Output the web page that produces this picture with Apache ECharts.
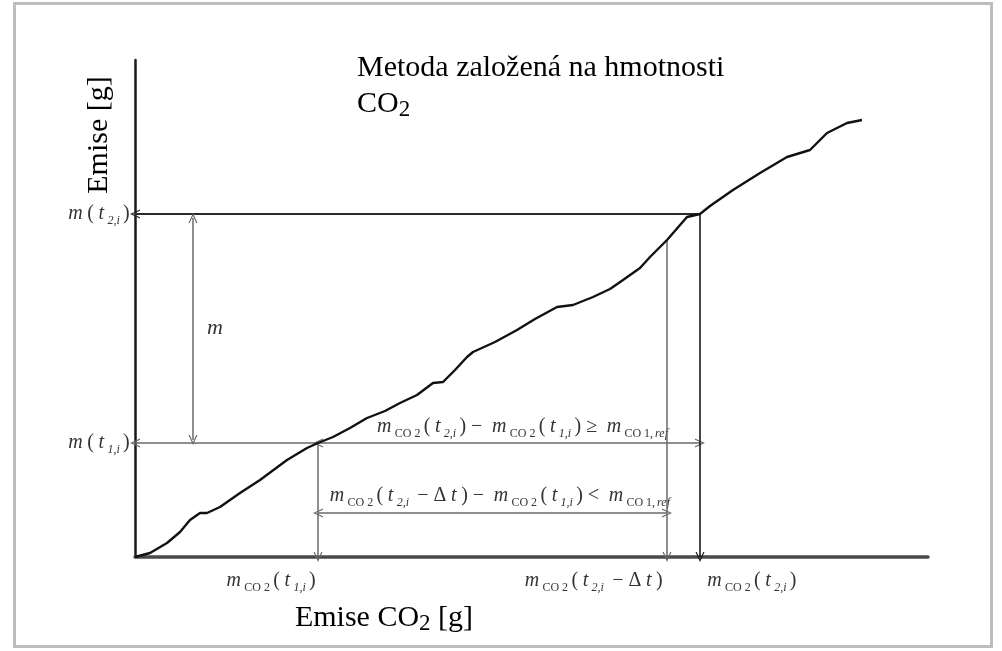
<!DOCTYPE html>
<html>
<head>
<meta charset="utf-8">
<script src="https://cdn.jsdelivr.net/npm/echarts@6/dist/echarts.min.js"></script>
<style>html,body{margin:0;padding:0;background:#fff}#c{width:1002px;height:651px}</style>
</head>
<body>
<div id="c"></div>
<script>
// Cumulative emission curve: CO2 mass (x) vs emission mass (y), arbitrary units
const curveX = [0,15,32,45,55,65,72,85,105,125,152,172,183,198,215,232,250,265,282,298,308,320,332,338,360,382,400,422,438,458,475,488,505,515,532,552,565,575,598,625,652,675,692,712,727];
const curveY = [0,4,14,25,37,44,44,50,64,77,97,109,114,120,129,139,146,154,162,174,175,187,200,205,215,227,238,250,252,260,268,277,289,300,317,340,343,351,367,384,400,407,424,434,437];

// Key reading points
const xT1 = 183;      // m_CO2(t1,i)
const xT2dt = 532;    // m_CO2(t2,i - Δt)
const xT2 = 565;      // m_CO2(t2,i)
const mT1 = 114;      // m(t1,i)
const mT2 = 343;      // m(t2,i)
const xM = 58;        // position of the "m" arrow
const yDtArrow = 44;  // level of the Δt double arrow
const yCurveAtT2dt = 317;

const xMax = 793, yMax = 497;

const chart = echarts.init(document.getElementById('c'), null, {renderer:'canvas'});
const arrow = 'path://M5,0 L10,11 L8.6,11 L5,3 L1.4,11 L0,11 Z';
const AS = [9, 10];
const gray = '#6a6a6a', dark = '#2a2a2a';

function seg(a, b, sa, sb, color, width) {
  return [
    {coord: a, symbol: sa ? arrow : 'none', symbolSize: AS, lineStyle: {color: color, width: width, type: 'solid'}},
    {coord: b, symbol: sb ? arrow : 'none', symbolSize: AS}
  ];
}

const pts = curveX.map((x, i) => [x, curveY[i]]);

chart.setOption({
  animation: false,
  grid: {left: 135, right: 74, top: 60, bottom: 94},
  xAxis: {type: 'value', min: 0, max: xMax, axisLine: {lineStyle: {color: '#4a4a4a', width: 3.5}}, axisTick: {show: false}, axisLabel: {show: false}, splitLine: {show: false}},
  yAxis: {type: 'value', min: 0, max: yMax, axisLine: {show: true, lineStyle: {color: '#1a1a1a', width: 2.5}}, axisTick: {show: false}, axisLabel: {show: false}, splitLine: {show: false}},
  series: [{
    type: 'line', data: pts, showSymbol: false, smooth: false,
    lineStyle: {color: '#111', width: 2.4}, z: 5,
    markLine: {
      silent: true, animation: false, label: {show: false},
      symbol: ['none', 'none'],
      data: [
        seg([0, mT2], [xT2, mT2], true, false, dark, 2),
        seg([xT1, mT1], [0, mT1], false, true, gray, 1.5),
        seg([xT1, mT1], [xT2, mT1], true, true, gray, 1.5),
        seg([xM, mT2 - 4], [xM, mT1 + 3], true, true, gray, 1.5),
        seg([xT1, mT1], [xT1, 0], false, true, gray, 1.5),
        seg([xT2dt, yCurveAtT2dt], [xT2dt, 0], false, true, gray, 1.5),
        seg([xT2, mT2], [xT2, 0], false, true, '#1a1a1a', 1.6),
        seg([xT1, yDtArrow], [xT2dt, yDtArrow], true, true, gray, 1.5)
      ]
    }
  }]
});

const SF = 'Liberation Serif, Times New Roman, serif';
const lc = '#333';
const rich = {
  i: {fontFamily: SF, fontStyle: 'italic', fontSize: 20, lineHeight: 26, padding: [0, 2.3], fill: lc, color: lc},
  n: {fontFamily: SF, fontSize: 20, lineHeight: 26, padding: [0, 2.3], fill: lc, color: lc},
  s: {fontFamily: SF, fontStyle: 'italic', fontSize: 12, lineHeight: 15, padding: [0, 1], verticalAlign: 'bottom', fill: lc, color: lc},
  c: {fontFamily: SF, fontSize: 12, lineHeight: 15, padding: [0, 1], verticalAlign: 'bottom', fill: lc, color: lc},
  b: {fontFamily: SF, fontStyle: 'italic', fontSize: 22, lineHeight: 26, fill: lc, color: lc}
};
const mCO2 = '{i|m}{c|CO 2}';
const labels = [
  {at: [0, mT2], dx: -3, dy: 0, align: 'right', text: '{i|m}{n|(}{i|t}{s|2,i}{n|)}'},
  {at: [0, mT1], dx: -3, dy: 0, align: 'right', text: '{i|m}{n|(}{i|t}{s|1,i}{n|)}'},
  {at: [xM, (mT1 + mT2) / 2], dx: 22, dy: 0, align: 'center', text: '{b|m}'},
  {at: [xT1, 0], dx: 0, dy: 24, align: 'right', text: mCO2 + '{n|(}{i|t}{s|1,i}{n|)}'},
  {at: [xT2dt, 0], dx: -2, dy: 24, align: 'right', text: mCO2 + '{n|(}{i|t}{s|2,i}{n| − Δ}{i|t}{n|)}'},
  {at: [xT2, 0], dx: 5, dy: 24, align: 'left', text: mCO2 + '{n|(}{i|t}{s|2,i}{n|)}'},
  {at: [xT2dt, mT1], dx: 2, dy: -16, align: 'right', text: mCO2 + '{n|(}{i|t}{s|2,i}{n|) − }' + mCO2 + '{n|(}{i|t}{s|1,i}{n|) ≥ }{i|m}{c|CO 1,}{s|ref}'},
  {at: [xT2dt, yDtArrow], dx: 4, dy: -17, align: 'right', text: mCO2 + '{n|(}{i|t}{s|2,i}{n| − Δ}{i|t}{n|) − }' + mCO2 + '{n|(}{i|t}{s|1,i}{n|) < }{i|m}{c|CO 1,}{s|ref}'}
];

const big = {fontFamily: SF, fontSize: 30, lineHeight: 34, fill: '#000'};
const sub = {fontFamily: SF, fontSize: 23, lineHeight: 28, verticalAlign: 'bottom', fill: '#000'};
const graphics = [
  {type: 'rect', shape: {x: 14.5, y: 3.5, width: 977, height: 643}, style: {fill: 'none', stroke: '#bdbdbd', lineWidth: 3}, silent: true},
  {type: 'text', x: 357, y: 53, style: {text: 'Metoda založená na hmotnosti', fontFamily: SF, fontSize: 30, fill: '#000'}},
  {type: 'text', x: 357, y: 87, style: {text: '{a|CO}{b|2}', rich: {a: big, b: sub}}},
  {type: 'text', x: 99, y: 135, rotation: Math.PI / 2, style: {text: 'Emise [g]', fontFamily: SF, fontSize: 30, fill: '#000', align: 'center', verticalAlign: 'middle'}},
  {type: 'text', x: 384, y: 618, style: {text: '{a|Emise CO}{b|2}{a| [g]}', align: 'center', verticalAlign: 'middle', rich: {a: big, b: sub}}}
];
labels.forEach(l => {
  const p = chart.convertToPixel({gridIndex: 0}, l.at);
  graphics.push({type: 'text', x: p[0] + l.dx, y: p[1] + l.dy, silent: true,
    style: {text: l.text, rich: rich, align: l.align, verticalAlign: 'middle'}});
});
chart.setOption({graphic: graphics});
</script>
</body>
</html>
